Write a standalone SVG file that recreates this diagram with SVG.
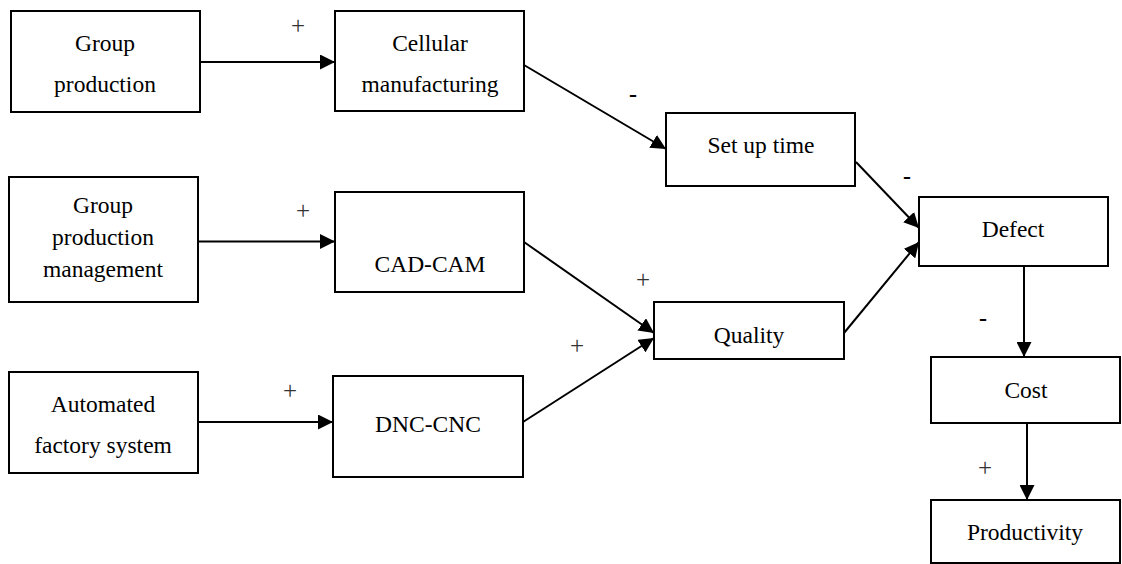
<svg xmlns="http://www.w3.org/2000/svg" width="1122" height="564" viewBox="0 0 1122 564">
  <style>
    .box { fill: #fff; stroke: #000; stroke-width: 2; }
    .lbl { font-family: "Liberation Serif", "Times New Roman", serif; font-size: 23.5px; fill: #000; text-anchor: middle; }
    .edge { stroke: #000; stroke-width: 2; fill: none; marker-end: url(#arrow); }
    .plus { font-family: "Liberation Serif", "Times New Roman", serif; font-size: 25px; fill: #333; text-anchor: middle; }
    .minus { font-family: "Liberation Serif", "Times New Roman", serif; font-size: 24px; font-weight: bold; fill: #000; text-anchor: middle; }
  </style>
  <defs>
    <marker id="arrow" markerUnits="userSpaceOnUse" markerWidth="15" markerHeight="15" refX="15" refY="7.5" orient="auto">
      <path d="M0,0 L15,7.5 L0,15 z" fill="#000"/>
    </marker>
  </defs>
  <rect width="1122" height="564" fill="#fff"/>

  <g id="connectors">
    <line class="edge" x1="200" y1="62" x2="335" y2="62"/>
    <line class="edge" x1="198" y1="241.5" x2="335" y2="241.5"/>
    <line class="edge" x1="198" y1="422" x2="333" y2="422"/>
    <line class="edge" x1="524" y1="65" x2="666" y2="149"/>
    <line class="edge" x1="524" y1="242" x2="654" y2="333"/>
    <line class="edge" x1="523" y1="422" x2="654" y2="338"/>
    <line class="edge" x1="856" y1="162" x2="919" y2="228"/>
    <line class="edge" x1="844" y1="333" x2="919" y2="242"/>
    <line class="edge" x1="1024" y1="266" x2="1024" y2="357"/>
    <line class="edge" x1="1027" y1="423" x2="1027" y2="500"/>
    <!-- polarity signs -->
    <text class="plus" x="298" y="34">+</text>
    <text class="plus" x="303" y="219">+</text>
    <text class="plus" x="290" y="399">+</text>
    <text class="plus" x="643" y="288">+</text>
    <text class="plus" x="577" y="354">+</text>
    <text class="plus" x="985" y="476">+</text>
    <text class="minus" x="633" y="102">-</text>
    <text class="minus" x="907" y="184">-</text>
    <text class="minus" x="983" y="326">-</text>
  </g>

  <g id="group-production">
    <rect class="box" x="11" y="11" width="189" height="101"/>
    <text class="lbl" x="105" y="51">Group</text>
    <text class="lbl" x="105" y="92">production</text>
  </g>
  <g id="cellular-manufacturing">
    <rect class="box" x="335" y="11" width="189" height="100"/>
    <text class="lbl" x="430" y="51">Cellular</text>
    <text class="lbl" x="430" y="92">manufacturing</text>
  </g>
  <g id="set-up-time">
    <rect class="box" x="666" y="113" width="189" height="73"/>
    <text class="lbl" x="761" y="153">Set up time</text>
  </g>
  <g id="group-production-management">
    <rect class="box" x="9" y="177" width="189" height="125"/>
    <text class="lbl" x="103" y="213">Group</text>
    <text class="lbl" x="103" y="245">production</text>
    <text class="lbl" x="103" y="277">management</text>
  </g>
  <g id="cad-cam">
    <rect class="box" x="335" y="192" width="189" height="100"/>
    <text class="lbl" x="430" y="272">CAD-CAM</text>
  </g>
  <g id="quality">
    <rect class="box" x="654" y="302" width="190" height="57"/>
    <text class="lbl" x="749" y="343">Quality</text>
  </g>
  <g id="automated-factory-system">
    <rect class="box" x="9" y="372" width="189" height="101"/>
    <text class="lbl" x="103" y="412">Automated</text>
    <text class="lbl" x="103" y="453">factory system</text>
  </g>
  <g id="dnc-cnc">
    <rect class="box" x="333" y="376" width="190" height="101"/>
    <text class="lbl" x="428" y="432">DNC-CNC</text>
  </g>
  <g id="defect">
    <rect class="box" x="919" y="197" width="189" height="69"/>
    <text class="lbl" x="1013" y="237">Defect</text>
  </g>
  <g id="cost">
    <rect class="box" x="931" y="357" width="189" height="66"/>
    <text class="lbl" x="1026" y="398">Cost</text>
  </g>
  <g id="productivity">
    <rect class="box" x="931" y="500" width="189" height="63"/>
    <text class="lbl" x="1025" y="540">Productivity</text>
  </g>
</svg>
